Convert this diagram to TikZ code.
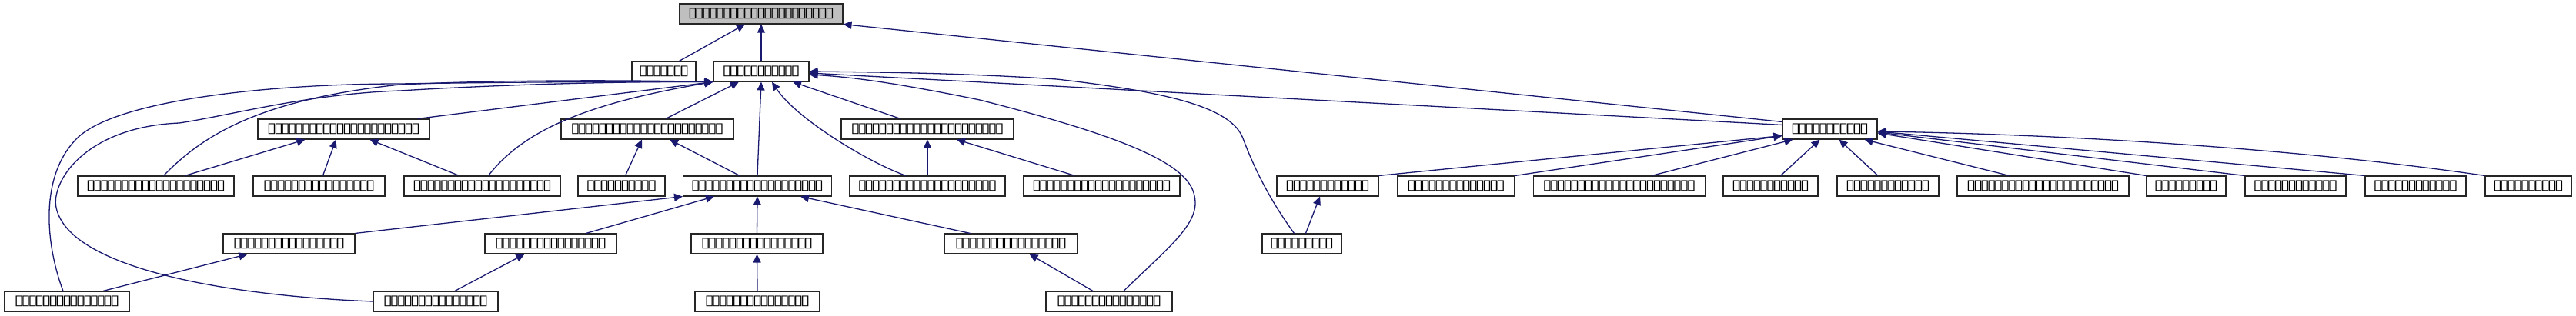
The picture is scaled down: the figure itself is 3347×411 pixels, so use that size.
\documentclass[tikz,border=0pt]{standalone}
\usepackage{fontspec}
\setmainfont{DejaVu Sans}
\usepackage{xcolor}
\definecolor{midnight}{RGB}{25, 25, 112}
\definecolor{boxgray}{RGB}{191, 191, 191}
\usepackage{tikz}
\usetikzlibrary{arrows.meta, calc}
% one missing-glyph box per character of a class name
\newcommand{\tofu}[1]{\foreach \k in {1,...,#1}{\makebox[4.45pt]{\scalebox{1.25}[1]{▯}}}}
\tikzset{
  cls/.style={draw=black!85, fill=white, line width=0.55pt, inner sep=0pt,
    minimum width=#1*0.5pt, minimum height=13pt,
    font=\fontsize{9}{10}\selectfont},
  link/.style={draw=midnight, line width=0.65pt,
    -{Triangle[length=5.5pt, width=5pt]}}
}

\begin{document}
\begin{tikzpicture}[x=0.5pt, y=-0.5pt]

  \useasboundingbox (0,0) rectangle (3347,411);

  % row 1 and 2
  \node[cls=212, fill=boxgray] (base) at (989,18) {\tofu{21}};
  \node[cls=83]  (aux)  at (862.5,93) {\tofu{7}};
  \node[cls=124] (core) at (989,93)   {\tofu{11}};

  % row 3
  \node[cls=223] (midc) at (446.5,168)  {\tofu{22}};
  \node[cls=224] (midg) at (841,168)    {\tofu{22}};
  \node[cls=224] (midh) at (1205,168)   {\tofu{22}};
  \node[cls=123] (hubp) at (2377.5,168) {\tofu{11}};

  % row 4
  \node[cls=203] (lfd) at (202.5,242)  {\tofu{20}};
  \node[cls=171] (lfe) at (414.5,242)  {\tofu{16}};
  \node[cls=203] (lff) at (626.5,242)  {\tofu{20}};
  \node[cls=113] (lfi) at (807.5,242)  {\tofu{10}};
  \node[cls=193] (lfj) at (984,242)    {\tofu{19}};
  \node[cls=202] (lfk) at (1205,242)   {\tofu{20}};
  \node[cls=203] (lfl) at (1431.5,242) {\tofu{20}};
  \node[cls=132] (lfm) at (1725,242)   {\tofu{12}};
  \node[cls=152] (lfn) at (1892,242)   {\tofu{14}};
  \node[cls=223] (lfo) at (2104,242)   {\tofu{22}};
  \node[cls=123] (lfq) at (2300.5,242) {\tofu{11}};
  \node[cls=132] (lfr) at (2453,242)   {\tofu{12}};
  \node[cls=223] (lfs) at (2654.5,242) {\tofu{22}};
  \node[cls=103] (lft) at (2840.5,242) {\tofu{9}};
  \node[cls=131] (lfu) at (2982.5,242) {\tofu{12}};
  \node[cls=131] (lfv) at (3138.5,242) {\tofu{12}};
  \node[cls=112] (lfw) at (3285,242)   {\tofu{10}};

  % row 5
  \node[cls=171] (subx1) at (375.5,317)  {\tofu{16}};
  \node[cls=171] (subx2) at (715.5,317)  {\tofu{16}};
  \node[cls=171] (subx3) at (983.5,317)  {\tofu{16}};
  \node[cls=173] (subx4) at (1313.5,317) {\tofu{16}};
  \node[cls=103] (subz)  at (1691.5,317) {\tofu{9}};

  % row 6
  \node[cls=162] (deepy1) at (87,392)   {\tofu{15}};
  \node[cls=162] (deepy2) at (566,392)  {\tofu{15}};
  \node[cls=162] (deepy3) at (984,392)  {\tofu{15}};
  \node[cls=164] (deepy4) at (1441,392) {\tofu{15}};

  % into base
  \draw[link] ($(aux.north)+(20,0)$) -- ($(base.south)+(-21,0)$);
  \draw[link] (core.north) -- (base.south);
  \draw[link] ($(hubp.north west)+(0,4)$) -- (base.south east);

  % into core
  \draw[link] ($(hubp.north west)+(0,8)$) -- ($(core.east)+(0,2)$);
  \draw[link] ($(midc.north)+(96,0)$) -- (core.south west);
  \draw[link] ($(midg.north)+(24,0)$) -- ($(core.south)+(-29,0)$);
  \draw[link] ($(midh.north)+(-35,0)$) -- ($(core.south)+(41,0)$);
  \draw[link] (lfj.north) -- (core.south);
  \draw[link] ($(lfk.north)+(-28,0)$) .. controls (1130,212) and (1035,155) .. ($(core.south)+(14,0)$);
  \draw[link] ($(lfd.north)+(10,0)$) .. controls (260,180) and (330,130) .. (520,110)
    .. controls (650,104) and (800,104) .. (core.south west);
  \draw[link] ($(lff.north)+(8,0)$) .. controls (680,170) and (760,135) .. (core.south west);
  \draw[link] ($(deepy1.north)+(-5,0)$) .. controls (60,320) and (50,230) .. (100,180)
    .. controls (150,130) and (350,109) .. (520,109)
    .. controls (650,107) and (800,106) .. (core.south west);
  \draw[link] (deepy2.west) .. controls (300,385) and (90,350) .. (73,270)
    .. controls (66,237) and (110,165) .. (233,160)
    .. controls (300,150) and (400,122) .. (520,118)
    .. controls (650,110) and (800,106) .. (core.south west);
  \draw[link] ($(deepy4.north)+(19,0)$) .. controls (1520,320) and (1560,290) .. (1552,255)
    .. controls (1545,215) and (1470,180) .. (1273,130)
    .. controls (1150,105) and (1100,100) .. ($(core.east)+(0,4)$);
  \draw[link] ($(subz.north)+(-10,0)$) .. controls (1650,260) and (1630,220) .. (1615,180)
    .. controls (1600,140) and (1520,120) .. (1373,103)
    .. controls (1250,95) and (1150,94) .. (core.east);

  % into midc, midg, midh
  \draw[link] ($(lfd.north)+(38,0)$) -- ($(midc.south)+(-50,0)$);
  \draw[link] ($(lfe.north)+(5,0)$) -- ($(midc.south)+(-10,0)$);
  \draw[link] ($(lff.north)+(-30,0)$) -- ($(midc.south)+(34,0)$);
  \draw[link] ($(lfi.north)+(5,0)$) -- ($(midg.south)+(-7,0)$);
  \draw[link] ($(lfj.north)+(-23,0)$) -- ($(midg.south)+(29,0)$);
  \draw[link] (lfk.north) -- (midh.south);
  \draw[link] ($(lfl.north)+(-35,0)$) -- ($(midh.south)+(38,0)$);

  % into hubp
  \draw[link] (lfm.north east) -- ($(hubp.south west)+(0,-5)$);
  \draw[link] (lfn.north east) -- ($(hubp.south west)+(0,-5)$);
  \draw[link] ($(lfo.north)+(42,0)$) -- ($(hubp.south west)+(14,0)$);
  \draw[link] ($(lfq.north)+(13,0)$) -- ($(hubp.south)+(-13,0)$);
  \draw[link] ($(lfr.north)+(-13,0)$) -- ($(hubp.south)+(12,0)$);
  \draw[link] ($(lfs.north)+(-44,0)$) -- ($(hubp.south)+(45,0)$);
  \draw[link] (lft.north west) -- ($(hubp.east)+(0,5)$);
  \draw[link] (lfu.north west) -- ($(hubp.east)+(0,4)$);
  \draw[link] (lfv.north west) -- ($(hubp.east)+(0,3)$);
  \draw[link] (lfw.north west) .. controls (3000,195) and (2700,175) .. ($(hubp.east)+(0,3)$);

  % into row 4
  \draw[link] (subx1.north east) -- (lfj.south west);
  \draw[link] ($(subx2.north)+(46,0)$) -- ($(lfj.south)+(-56,0)$);
  \draw[link] (subx3.north) -- (lfj.south);
  \draw[link] ($(subx4.north)+(-53,0)$) -- ($(lfj.south)+(56,0)$);
  \draw[link] ($(subz.north)+(5,0)$) -- ($(lfm.south)+(-10,0)$);

  % into row 5
  \draw[link] ($(deepy1.north)+(47,0)$) -- ($(subx1.south)+(-54,0)$);
  \draw[link] ($(deepy2.north)+(25,0)$) -- ($(subx2.south)+(-34,0)$);
  \draw[link] (deepy3.north) -- (subx3.south);
  \draw[link] ($(deepy4.north)+(-21,0)$) -- ($(subx4.south)+(24,0)$);

\end{tikzpicture}
\end{document}
